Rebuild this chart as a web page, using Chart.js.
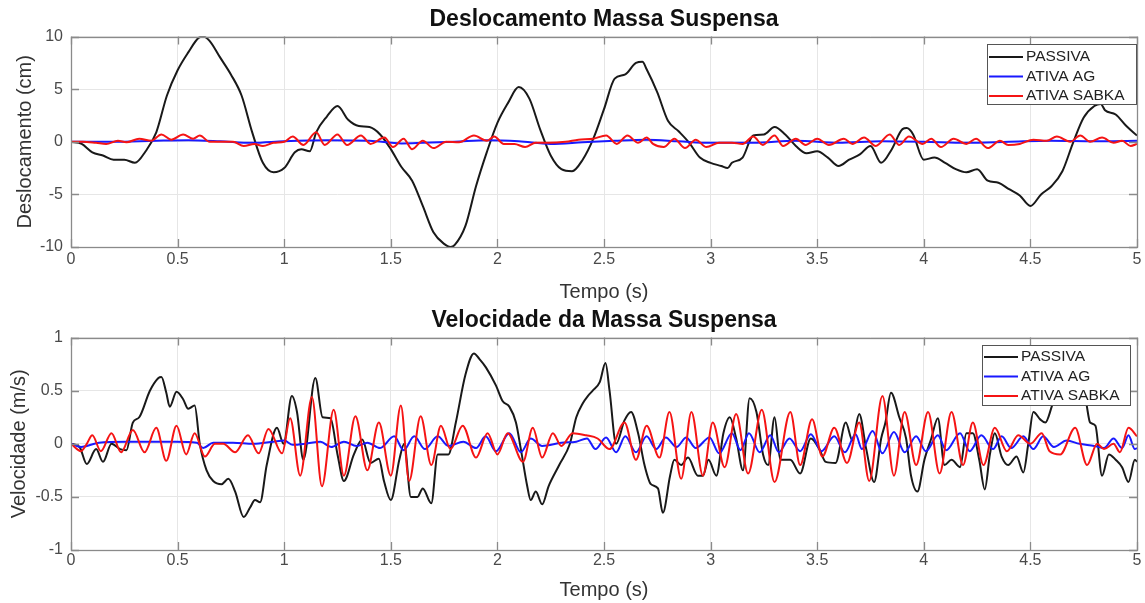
<!DOCTYPE html>
<html>
<head>
<meta charset="utf-8">
<script src="https://cdn.jsdelivr.net/npm/chart.js@4.4.1/dist/chart.umd.min.js"></script>
<style>
  body { margin: 0; background: #fff; }
  #desl { position: absolute; left: 0; top: 0; }
  #vel { position: absolute; left: 0; top: 300px; }
</style>
</head>
<body>
<canvas id="desl" width="1145" height="310"></canvas>
<canvas id="vel" width="1145" height="303"></canvas>
<script>
const series = ['PASSIVA', 'ATIVA AG', 'ATIVA SABKA'];
const xTicks = [0, 0.5, 1, 1.5, 2, 2.5, 3, 3.5, 4, 4.5, 5];
const yTicksDesl = [-10, -5, 0, 5, 10];
const yTicksVel = [-1, -0.5, 0, 0.5, 1];

// Deslocamento (cm)
const tPassivaDesl = [
    0, 0.05, 0.1, 0.15, 0.2, 0.25, 0.3, 0.35, 0.4, 0.45,
    0.5, 0.55, 0.6, 0.62, 0.65, 0.7, 0.75, 0.8, 0.85, 0.9,
    0.95, 1.0, 1.05, 1.08, 1.12, 1.15, 1.2, 1.25, 1.3, 1.35,
    1.4, 1.45, 1.5, 1.55, 1.6, 1.65, 1.7, 1.75, 1.78, 1.8,
    1.85, 1.9, 1.95, 2.0, 2.05, 2.1, 2.15, 2.2, 2.25, 2.3,
    2.35, 2.4, 2.45, 2.5, 2.55, 2.6, 2.65, 2.68, 2.7, 2.75,
    2.8, 2.85, 2.9, 2.95, 3.0, 3.05, 3.08, 3.1, 3.15, 3.2,
    3.25, 3.3, 3.35, 3.4, 3.45, 3.5, 3.55, 3.6, 3.65, 3.7,
    3.75, 3.8, 3.85, 3.9, 3.92, 3.95, 4.0, 4.05, 4.1, 4.15,
    4.2, 4.25, 4.3, 4.35, 4.4, 4.45, 4.5, 4.55, 4.6, 4.65,
    4.7, 4.75, 4.8, 4.83, 4.85, 4.9, 4.95, 5.0
];
const passivaDesl = [
    0, -0.2, -1.0, -1.3, -1.7, -1.7, -2.0, -0.9, 0.9, 4.4,
    6.8, 8.5, 9.9, 10.0, 9.6, 8.0, 6.4, 4.4, 0.9, -2.0,
    -2.9, -2.5, -1.0, -0.7, -0.9, 0.9, 2.4, 3.4, 2.1, 1.5,
    1.4, 0.7, -0.7, -2.4, -3.7, -6.1, -8.6, -9.7, -10.0, -9.8,
    -8.0, -4.2, -1.0, 1.8, 3.7, 5.2, 4.1, 1.2, -1.3, -2.6,
    -2.8, -1.7, 0.3, 3.1, 6.0, 6.4, 7.5, 7.6, 6.9, 4.7,
    2.0, 1.0, -0.1, -1.5, -2.0, -2.3, -2.5, -2.0, -1.5, 0.6,
    0.7, 1.4, 0.7, -0.4, -1.1, -0.9, -1.5, -2.3, -1.7, -1.2,
    -0.4, -2.0, -0.7, 1.2, 1.3, 0.7, -1.7, -1.5, -2.0, -2.6,
    -2.9, -2.6, -3.7, -3.9, -4.5, -5.1, -6.1, -5.0, -4.2, -2.8,
    -0.1, 2.3, 3.4, 3.6, 3.0, 2.6, 1.5, 0.6
];
const tAgDesl = [
    0, 0.2, 0.4, 0.55, 0.7, 0.85, 1.0, 1.2, 1.4, 1.55,
    1.65, 1.8, 1.95, 2.1, 2.25, 2.4, 2.55, 2.7, 2.85, 3.0,
    3.2, 3.4, 3.6, 3.8, 4.0, 4.2, 4.4, 4.6, 4.8, 5.0
];
const agDesl = [
    0, 0, 0.1, 0.15, 0.05, -0.1, 0.05, 0.15, 0.1, -0.15,
    -0.1, 0, 0.15, 0.05, -0.2, -0.05, 0.1, 0.2, 0.05, -0.1,
    -0.1, 0.1, -0.1, 0.05, 0, -0.1, 0, 0.1, 0.05, 0.1
];
const tSabkaDesl = [
    0, 0.055, 0.118, 0.165, 0.22, 0.26, 0.32, 0.377, 0.424, 0.47,
    0.526, 0.573, 0.604, 0.65, 0.76, 0.81, 0.86, 0.9, 0.95, 1.0,
    1.04, 1.09, 1.15, 1.19, 1.25, 1.295, 1.36, 1.405, 1.47, 1.51,
    1.56, 1.6, 1.65, 1.7, 1.76, 1.82, 1.89, 1.95, 1.985, 2.03,
    2.08, 2.13, 2.18, 2.24, 2.32, 2.38, 2.45, 2.51, 2.56, 2.61,
    2.66, 2.7, 2.73, 2.78, 2.83, 2.88, 2.93, 2.98, 3.04, 3.1,
    3.15, 3.2, 3.245, 3.3, 3.34, 3.4, 3.445, 3.5, 3.555, 3.625,
    3.665, 3.72, 3.775, 3.84, 3.885, 3.93, 3.995, 4.035, 4.08, 4.14,
    4.2, 4.245, 4.3, 4.357, 4.396, 4.45, 4.514, 4.577, 4.624, 4.687,
    4.734, 4.78, 4.836, 4.89, 4.93, 4.97, 5.0
];
const sabkaDesl = [
    0, 0, -0.1, -0.2, 0.1, -0.05, 0.3, 0.1, 0.7, 0.2,
    0.7, 0.3, 0.6, 0, 0, -0.4, -0.2, -0.4, -0.1, 0,
    0.5, -0.3, 0.9, -0.3, 0.7, -0.3, 0.6, -0.2, 0.4, -0.5,
    0.3, -0.7, 0.1, -0.6, 0, -0.05, 0.6, 0.1, 0.5, -0.2,
    -0.2, -0.5, -0.1, -0.1, 0, 0.2, 0.3, 0.6, -0.2, 0.6,
    -0.1, 0.4, -0.2, -0.5, 0.3, -0.6, 0.2, -0.5, -0.1, -0.1,
    -0.2, 0.5, -0.3, 0.6, -0.4, 0.3, -0.3, 0.3, -0.3, 0.3,
    -0.2, 0.4, -0.4, 0.7, -0.3, 0.5, -0.2, 0.3, -0.5, 0.3,
    -0.2, 0.3, -0.6, 0.1, -0.3, -0.2, 0.2, 0.1, 0.5, 0,
    0.6, 0, 0.4, -0.1, 0.1, -0.4, -0.2
];

// Velocidade (m/s)
const tPassivaVel = [
    0, 0.04, 0.074, 0.118, 0.15, 0.19, 0.23, 0.26, 0.29, 0.32,
    0.37, 0.41, 0.424, 0.447, 0.463, 0.495, 0.526, 0.55, 0.58, 0.604,
    0.636, 0.667, 0.706, 0.738, 0.77, 0.81, 0.84, 0.863, 0.887, 0.918,
    0.966, 0.997, 1.036, 1.06, 1.09, 1.146, 1.18, 1.217, 1.25, 1.28,
    1.327, 1.366, 1.405, 1.444, 1.468, 1.5, 1.54, 1.563, 1.594, 1.625,
    1.65, 1.69, 1.72, 1.77, 1.805, 1.85, 1.89, 1.915, 1.946, 1.993,
    2.025, 2.056, 2.087, 2.11, 2.14, 2.156, 2.18, 2.21, 2.24, 2.29,
    2.34, 2.37, 2.4, 2.424, 2.447, 2.48, 2.507, 2.526, 2.557, 2.596,
    2.627, 2.66, 2.69, 2.72, 2.753, 2.776, 2.81, 2.83, 2.862, 2.894,
    2.94, 2.964, 2.99, 3.027, 3.06, 3.09, 3.12, 3.152, 3.183, 3.215,
    3.246, 3.27, 3.3, 3.327, 3.374, 3.42, 3.47, 3.51, 3.54, 3.586,
    3.634, 3.665, 3.697, 3.73, 3.767, 3.8, 3.82, 3.846, 3.885, 3.917,
    3.94, 3.97, 4.003, 4.035, 4.066, 4.097, 4.13, 4.17, 4.2, 4.23,
    4.26, 4.286, 4.31, 4.333, 4.365, 4.396, 4.435, 4.467, 4.49, 4.514,
    4.546, 4.57, 4.6, 4.63, 4.67, 4.72, 4.76, 4.78, 4.805, 4.836,
    4.868, 4.9, 4.93, 4.96, 4.99, 5.0
];
const passivaVel = [
    0, -0.03, -0.19, -0.05, -0.17, 0.0, -0.05, -0.06, 0.2, 0.25,
    0.5, 0.62, 0.63, 0.48, 0.35, 0.49, 0.42, 0.33, 0.36, 0.0,
    -0.25, -0.35, -0.38, -0.33, -0.45, -0.69, -0.6, -0.53, -0.55, -0.2,
    0.15, 0.0, 0.45, 0.3, -0.15, 0.62, 0.25, 0.24, -0.1, -0.35,
    -0.1, 0.04, -0.18, -0.14, -0.35, -0.53, -0.15, 0.0, -0.5, -0.5,
    -0.42, -0.56, -0.1, -0.1, 0.2, 0.65, 0.85, 0.8, 0.72, 0.55,
    0.4, 0.35, 0.2, -0.05, -0.4, -0.53, -0.45, -0.57, -0.4, -0.2,
    0.0, 0.25, 0.38, 0.45, 0.5, 0.58, 0.76, 0.5, 0.0, 0.22,
    0.3, 0.1, -0.2, -0.38, -0.42, -0.65, -0.3, -0.15, -0.2, -0.13,
    -0.3, -0.3, -0.15, -0.3, 0.1, 0.25, 0.05, -0.25, 0.43, 0.3,
    -0.1, -0.2, 0.25, -0.15, -0.15, -0.28, 0.05, -0.05, -0.17, -0.18,
    0.2, 0.03, 0.28, -0.05, -0.36, 0.05, 0.2, 0.48, 0.25, 0.05,
    -0.3, -0.45, -0.15, 0.05, 0.24, -0.2, -0.15, -0.22, 0.1, 0.1,
    -0.15, -0.43, -0.1, 0.1, -0.12, -0.2, -0.12, -0.27, 0.0, 0.3,
    0.23, 0.2, 0.35, 0.55, 0.6, 0.55, 0.4, 0.2, 0.17, -0.3,
    -0.1, -0.15, -0.22, -0.36, -0.15, -0.17
];
const tAgVel = [
    0, 0.047, 0.13, 0.26, 0.4, 0.49, 0.59, 0.62, 0.667, 0.76,
    0.855, 0.95, 1.0, 1.04, 1.1, 1.17, 1.22, 1.28, 1.34, 1.39,
    1.45, 1.516, 1.56, 1.61, 1.66, 1.72, 1.77, 1.84, 1.9, 1.945,
    1.993, 2.056, 2.11, 2.156, 2.21, 2.3, 2.37, 2.42, 2.46, 2.51,
    2.557, 2.6, 2.65, 2.7, 2.745, 2.79, 2.84, 2.886, 2.93, 2.995,
    3.04, 3.1, 3.14, 3.18, 3.23, 3.28, 3.32, 3.37, 3.42, 3.47,
    3.52, 3.58, 3.63, 3.68, 3.71, 3.76, 3.806, 3.86, 3.91, 3.964,
    4.01, 4.066, 4.105, 4.17, 4.215, 4.27, 4.325, 4.365, 4.41, 4.467,
    4.514, 4.56, 4.61, 4.67, 4.73, 4.8, 4.845, 4.89, 4.93, 4.96,
    4.99, 5.0
];
const agVel = [
    0, -0.03, 0.01, 0.02, 0.02, 0.02, 0.01, -0.04, 0.01, 0.01,
    0.0, 0.02, 0.03, -0.01, 0.0, 0.02, -0.03, 0.02, -0.02, 0.01,
    -0.04, 0.07, -0.06, 0.07, -0.05, 0.07, -0.02, 0.02, -0.04, 0.07,
    -0.07, 0.1, -0.08, 0.05, -0.02, 0.01, 0.02, 0.05, -0.05, 0.06,
    -0.08, 0.07, -0.08, 0.07, -0.05, 0.06, -0.03, 0.06, -0.04, 0.06,
    -0.09, 0.1, -0.06, 0.1, -0.08, 0.08, -0.08, 0.05, -0.07, 0.09,
    -0.07, 0.07, -0.08, 0.09, -0.05, 0.12, -0.09, 0.11, -0.08, 0.07,
    -0.07, 0.08, -0.06, 0.1, -0.07, 0.08, -0.05, 0.07, -0.04, 0.07,
    -0.05, 0.07, -0.03, 0.03, 0.0, -0.02, -0.04, 0.05, -0.04, 0.08,
    -0.05, -0.04
];
const tSabkaVel = [
    0, 0.047, 0.074, 0.1, 0.14, 0.19, 0.235, 0.29, 0.345, 0.4,
    0.447, 0.495, 0.54, 0.58, 0.628, 0.675, 0.714, 0.77, 0.83, 0.88,
    0.926, 0.99, 1.028, 1.075, 1.13, 1.177, 1.232, 1.28, 1.334, 1.39,
    1.444, 1.5, 1.547, 1.586, 1.64, 1.69, 1.735, 1.78, 1.837, 1.9,
    1.954, 2.0, 2.048, 2.12, 2.166, 2.21, 2.26, 2.3, 2.353, 2.416,
    2.47, 2.526, 2.596, 2.65, 2.7, 2.76, 2.807, 2.862, 2.91, 2.964,
    3.01, 3.066, 3.12, 3.176, 3.24, 3.3, 3.374, 3.42, 3.476, 3.524,
    3.58, 3.64, 3.697, 3.744, 3.806, 3.86, 3.91, 3.964, 4.02, 4.074,
    4.13, 4.184, 4.23, 4.28, 4.333, 4.39, 4.443, 4.5, 4.553, 4.59,
    4.64, 4.71, 4.766, 4.813, 4.845, 4.89, 4.92, 4.96, 5.0
];
const sabkaVel = [
    0, -0.07, 0.0, 0.08, -0.07, 0.1, -0.08, 0.13, -0.08, 0.15,
    -0.16, 0.17, -0.1, 0.1, -0.12, 0.0, 0.0, -0.08, 0.08, -0.09,
    0.14, -0.09, 0.24, -0.3, 0.44, -0.4, 0.32, -0.3, 0.26, -0.25,
    0.2, -0.3, 0.36, -0.35, 0.26, -0.2, 0.17, -0.05, 0.17, -0.13,
    0.1, -0.1, 0.1, -0.17, 0.15, -0.13, 0.1, -0.02, 0.1, 0.08,
    0.05, -0.05, 0.2, -0.15, 0.17, -0.13, 0.3, -0.33, 0.3, -0.3,
    0.2, -0.22, 0.28, -0.28, 0.32, -0.36, 0.3, -0.2, 0.23, -0.12,
    0.15, -0.18, 0.2, -0.35, 0.45, -0.3, 0.3, -0.2, 0.3, -0.28,
    0.3, -0.2, 0.2, -0.2, 0.15, -0.07, 0.08, 0.0, 0.1, -0.07,
    -0.1, 0.15, -0.2, 0.0, -0.05, 0.0, -0.08, 0.15, 0.07
];

const cores = ['rgb(25, 25, 25)', 'rgb(25, 25, 255)', 'rgb(245, 20, 20)'];
const fonte = '"Liberation Sans", Arial, sans-serif';
const corEixo = '#8a8a8a';

const pontos = (t, v) => t.map((x, i) => ({ x: x, y: v[i] }));

// caixa dos eixos, marcas internas e legenda no estilo do MATLAB
const caixaLegenda = {
    id: 'caixaLegenda',
    afterDraw(chart, args, opts) {
        const ctx = chart.ctx;
        const a = chart.chartArea;
        const sx = chart.scales.x, sy = chart.scales.y;
        ctx.save();
        ctx.strokeStyle = corEixo;
        ctx.lineWidth = 1.3;
        ctx.beginPath();
        sx.ticks.forEach(t => {
            const px = Math.round(sx.getPixelForValue(t.value)) + 0.5;
            ctx.moveTo(px, a.bottom); ctx.lineTo(px, a.bottom - 8);
            ctx.moveTo(px, a.top); ctx.lineTo(px, a.top + 8);
        });
        sy.ticks.forEach(t => {
            const py = Math.round(sy.getPixelForValue(t.value)) + 0.5;
            ctx.moveTo(a.left, py); ctx.lineTo(a.left + 8, py);
            ctx.moveTo(a.right, py); ctx.lineTo(a.right - 8, py);
        });
        ctx.stroke();
        ctx.strokeRect(Math.round(a.left) + 0.5, Math.round(a.top) + 0.5,
            Math.round(a.right - a.left), Math.round(a.bottom - a.top));

        const w = opts.width, h = opts.height;
        const x0 = Math.round(a.right - opts.right - w);
        const y0 = Math.round(a.top + opts.top);
        ctx.fillStyle = '#fff';
        ctx.fillRect(x0, y0, w, h);
        ctx.lineWidth = 1;
        ctx.strokeStyle = '#555';
        ctx.strokeRect(x0 + 0.5, y0 + 0.5, w, h);
        ctx.font = '15.5px ' + fonte;
        ctx.textBaseline = 'middle';
        chart.data.datasets.forEach((ds, i) => {
            const y = y0 + opts.row0 + i * 19.5;
            ctx.strokeStyle = ds.borderColor;
            ctx.lineWidth = 2;
            ctx.beginPath();
            ctx.moveTo(x0 + 2, y);
            ctx.lineTo(x0 + 36, y);
            ctx.stroke();
            ctx.fillStyle = '#222';
            ctx.fillText(ds.label, x0 + 39, y);
        });
        ctx.restore();
    }
};

function grafico(id, cfg) {
    return new Chart(document.getElementById(id), {
        type: 'line',
        data: {
            datasets: cfg.dados.map((d, i) => ({
                label: series[i],
                data: d,
                borderColor: cores[i],
                backgroundColor: cores[i],
                borderWidth: 2,
                pointRadius: 0,
                cubicInterpolationMode: 'monotone',
                order: 3 - i
            }))
        },
        options: {
            responsive: false,
            animation: false,
            devicePixelRatio: 1,
            layout: { padding: { left: 0, right: 8, top: 0, bottom: 0 } },
            plugins: {
                legend: { display: false },
                tooltip: { enabled: false },
                title: {
                    display: true,
                    fullSize: false,
                    text: cfg.titulo,
                    color: '#111',
                    font: { family: fonte, size: 23, weight: 'bold' },
                    padding: cfg.tituloPad
                },
                caixaLegenda: cfg.legenda
            },
            scales: {
                x: {
                    type: 'linear',
                    min: 0,
                    max: 5,
                    afterBuildTicks: s => { s.ticks = xTicks.map(v => ({ value: v })); },
                    afterFit: s => { s.height = cfg.alturaX; },
                    grid: { color: '#e6e6e6', drawTicks: false },
                    border: { display: false },
                    ticks: {
                        padding: cfg.xTickPad,
                        color: '#4a4a4a',
                        font: { family: fonte, size: 16 },
                        callback: v => String(v)
                    },
                    title: {
                        display: true,
                        text: 'Tempo (s)',
                        color: '#333',
                        font: { family: fonte, size: 20 },
                        padding: { top: 0, bottom: cfg.tempoPad }
                    }
                },
                y: {
                    min: cfg.yTicks[0],
                    max: cfg.yTicks[cfg.yTicks.length - 1],
                    afterBuildTicks: s => { s.ticks = cfg.yTicks.map(v => ({ value: v })); },
                    afterFit: s => { s.width = 71; },
                    grid: { color: '#e6e6e6', drawTicks: false },
                    border: { display: false },
                    ticks: {
                        padding: 8,
                        color: '#4a4a4a',
                        font: { family: fonte, size: 16 },
                        callback: v => String(v)
                    },
                    title: {
                        display: true,
                        text: cfg.yTitulo,
                        color: '#333',
                        font: { family: fonte, size: 20 },
                        padding: { top: cfg.yTituloPad, bottom: 0 }
                    }
                }
            }
        },
        plugins: [caixaLegenda]
    });
}

grafico('desl', {
    titulo: 'Deslocamento Massa Suspensa',
    tituloPad: { top: 6, bottom: 3 },
    yTitulo: 'Deslocamento (cm)',
    yTituloPad: 13,
    yTicks: yTicksDesl,
    alturaX: 63,
    xTickPad: 3,
    tempoPad: 6,
    legenda: { width: 149, height: 60, right: 1, top: 7, row0: 13 },
    dados: [
        pontos(tPassivaDesl, passivaDesl),
        pontos(tAgDesl, agDesl),
        pontos(tSabkaDesl, sabkaDesl)
    ]
});

grafico('vel', {
    titulo: 'Velocidade da Massa Suspensa',
    tituloPad: { top: 7, bottom: 3 },
    yTitulo: 'Velocidade (m/s)',
    yTituloPad: 7,
    yTicks: yTicksVel,
    alturaX: 53,
    xTickPad: 1,
    tempoPad: 1,
    legenda: { width: 148, height: 60, right: 7, top: 7, row0: 12 },
    dados: [
        pontos(tPassivaVel, passivaVel),
        pontos(tAgVel, agVel),
        pontos(tSabkaVel, sabkaVel)
    ]
});
</script>
</body>
</html>
